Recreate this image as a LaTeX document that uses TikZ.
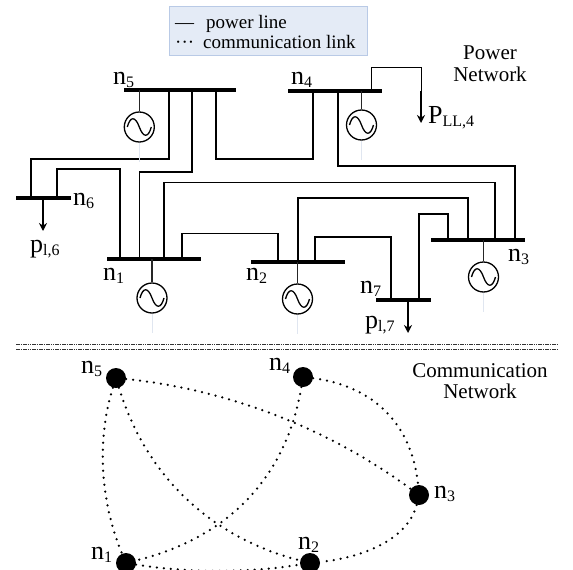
\documentclass[tikz,border=0pt]{standalone}
\usepackage{fontspec}
\setmainfont{Liberation Serif}
\usetikzlibrary{arrows.meta}
\newcommand{\bigfs}{\fontsize{26}{26}\selectfont}
\newcommand{\subfs}{\fontsize{16}{16}\selectfont}
\newcommand{\lab}[2]{{\bigfs #1}\raisebox{-3pt}{\subfs #2}}
\definecolor{legfill}{HTML}{E4EBF6}
\definecolor{legdraw}{HTML}{B9CAE6}
\definecolor{faint}{HTML}{E0E6F0}
\tikzset{
  bus/.style={draw=none,fill=black,inner sep=0pt,minimum height=3.6pt,rectangle},
  pline/.style={line width=1.6pt,black},
  thinline/.style={line width=1pt,black},
  loadarrow/.style={line width=1.5pt,-{Stealth[length=8pt,width=8pt]}},
  gencirc/.style={circle,draw,line width=1.3pt,minimum size=30pt,inner sep=0pt},
  genstem/.style={line width=1.2pt,black!85},
  faintline/.style={line width=1pt,faint},
  sinewave/.style={line width=1.3pt},
  lbl/.style={anchor=base west,inner sep=0pt},
  caption/.style={anchor=base,inner sep=0pt,font=\fontsize{21}{21}\selectfont},
  commnode/.style={circle,fill=black,minimum size=20pt,inner sep=0pt},
  commlink/.style={line width=2.5pt,line cap=round,dash pattern=on 0pt off 7pt},
  sepline/.style={line width=0.9pt,black!80,dash pattern=on 1.6pt off 0.7pt},
}
\newcommand{\gen}[4]{% name, x, y, bus
  \node[gencirc] (#1) at (#2,#3) {};
  \draw[sinewave] ([xshift=-12pt]#1.center) .. controls +(3,-11) and +(-4,-11) .. (#1.center) .. controls +(4,11) and +(-3,11) .. ([xshift=12pt]#1.center);
  \draw[genstem] (#4 -| #1) -- (#1.north);
  \coordinate (#1e) at (#2,#3+35);
  \draw[faintline] (#1.south) -- (#1e);
}
\begin{document}
\begin{tikzpicture}[x=1pt,y=-1pt]
\clip (0,0) rectangle (573,570);
% legend
\node[rectangle,draw=legdraw,fill=legfill,line width=0.8pt,minimum width=198pt,minimum height=49pt,inner sep=0pt] (legend) at (268,30.5) {};
\node[lbl,font=\fontsize{19}{19}\selectfont] (leg1) at (175,28) {—\hspace{12pt}power line};
\node[lbl,font=\fontsize{19}{19}\selectfont] (leg2) at (175,48) {···\hspace{9pt}communication link};
% buses
\node[bus,minimum width=112pt] (bn5) at (180,90) {};
\node[bus,minimum width=94pt] (bn4) at (335,91) {};
\node[bus,minimum width=55pt] (bn6) at (43.5,198) {};
\node[bus,minimum width=94pt] (bn1) at (154,259) {};
\node[bus,minimum width=94pt] (bn2) at (298,262) {};
\node[bus,minimum width=94pt] (bn3) at (478,240) {};
\node[bus,minimum width=55pt] (bn7) at (403.5,300) {};
% power lines
\draw[pline] ([xshift=-11pt]bn5.center) -- ++(0,69) -| ([xshift=-12.5pt]bn6.center);
\draw[pline] ([xshift=13.5pt]bn6.center) -- ++(0,-29) -| ([xshift=-34pt]bn1.center);
\draw[pline] ([xshift=12pt]bn5.center) -- ++(0,82) -| ([xshift=-14.5pt]bn1.center);
\draw[pline] ([xshift=36pt]bn5.center) -- ++(0,69) -| ([xshift=-22pt]bn4.center);
\draw[pline] ([xshift=3pt]bn4.center) -- ++(0,75) -| ([xshift=37pt]bn3.center);
\draw[pline] ([xshift=10pt]bn1.center) -- ++(0,-76.5) -| ([xshift=17pt]bn3.center);
\draw[pline] ([xshift=28pt]bn1.center) -- ++(0,-25.5) -| ([xshift=-20pt]bn2.center);
\draw[pline] ([xshift=0pt]bn2.center) -- ++(0,-64) -| ([xshift=-10pt]bn3.center);
\draw[pline] ([xshift=17pt]bn2.center) -- ++(0,-25) -| ([xshift=-12.5pt]bn7.center);
\draw[pline] ([xshift=15.5pt]bn7.center) -- ++(0,-86) -| ([xshift=-30pt]bn3.center);
% loads
\coordinate (l4) at (421,123);
\coordinate (l4b) at (421,91);
\draw[thinline] ([xshift=36.5pt]bn4.center) -- ++(0,-24) -| (l4b);
\draw[loadarrow] (l4b) -- (l4);
\coordinate (l6) at (43,231);
\draw[loadarrow] (bn6.center -| l6) -- (l6);
\coordinate (l7) at (408,333);
\draw[loadarrow] (bn7.center -| l7) -- (l7);
% generators
\gen{g5}{139.3}{127}{bn5}
\gen{g4}{361.5}{125}{bn4}
\gen{g1}{152}{298}{bn1}
\gen{g2}{297.5}{299}{bn2}
\gen{g3}{483.5}{277}{bn3}
% labels
\node[lbl] (t5) at (113,84) {\lab{n}{5}};
\node[lbl] (t4) at (291,84) {\lab{n}{4}};
\node[lbl] (t6) at (73,205) {\lab{n}{6}};
\node[lbl] (t1) at (103,280) {\lab{n}{1}};
\node[lbl] (t2) at (246,280) {\lab{n}{2}};
\node[lbl] (t3) at (508,261) {\lab{n}{3}};
\node[lbl] (t7) at (360,293) {\lab{n}{7}};
\node[lbl] (tp6) at (30,252) {\lab{p}{l,6}};
\node[lbl] (tp7) at (365,328) {\lab{p}{l,7}};
\node[lbl] (tp4) at (428,123) {\lab{P}{LL,4}};
\node[caption] (cp1) at (490,59) {Power};
\node[caption] (cp2) at (490,81) {Network};
\node[caption] (cc1) at (480,377) {Communication};
\node[caption] (cc2) at (480,398) {Network};
% separator
\coordinate (sa1) at (16,344); \coordinate (sb1) at (558,344);
\coordinate (sa2) at (16,349); \coordinate (sb2) at (558,349);
\draw[sepline] (sa1) -- (sb1);
\draw[sepline] (sa2) -- (sb2);
% communication network
\node[commnode] (c5) at (116,378) {};
\node[commnode] (c4) at (303,377) {};
\node[commnode] (c3) at (419,495) {};
\node[commnode] (c1) at (126,563) {};
\node[commnode] (c2) at (310,563) {};
\draw[commlink] (c5) .. controls (96.7,439) and (100,501) .. (c1);
\draw[commlink] (c5) .. controls (146,476) and (210.7,537.7) .. (c2);
\draw[commlink] (c5) .. controls (227.3,389.3) and (328.3,428.3) .. (c3);
\draw[commlink] (c4) .. controls (285,485) and (220,540) .. (c1);
\draw[commlink] (c4) .. controls (373.7,385.7) and (412.3,425) .. (c3);
\draw[commlink] (c3) .. controls (409.7,533.7) and (373.3,556.3) .. (c2);
\draw[commlink] (c1) .. controls (187.3,573) and (248.7,573) .. (c2);
\node[lbl] (d5) at (81,373) {\lab{n}{5}};
\node[lbl] (d4) at (269,370) {\lab{n}{4}};
\node[lbl] (d3) at (434,498) {\lab{n}{3}};
\node[lbl] (d1) at (91,559) {\lab{n}{1}};
\node[lbl] (d2) at (298,549) {\lab{n}{2}};
\end{tikzpicture}
\end{document}
